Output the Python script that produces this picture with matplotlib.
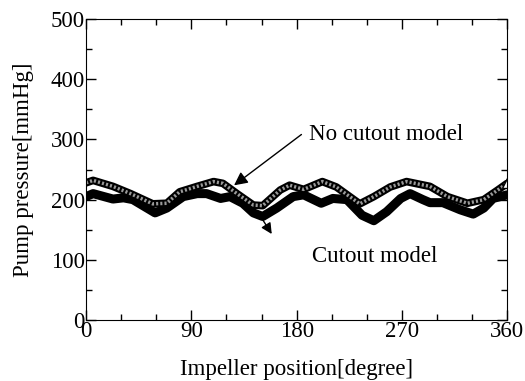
import numpy as np
import matplotlib as mplt
mplt.use("Agg")
import matplotlib.pyplot as plt
from matplotlib import rc

rc('font', **{'family': 'serif', 'serif': ['Liberation Serif', 'DejaVu Serif'], 'size': 16.5})

# Cutout model (solid black)
x_cut = [0, 6, 23, 32, 40, 59, 69, 83, 95, 103, 115, 123, 134, 143, 151, 163, 177,
         186, 201, 211, 223, 236, 246, 257, 269, 277, 288, 294, 305, 320, 331, 340, 348, 360]
y_cut = [205, 210, 201, 203, 200, 178, 186, 205, 210, 210, 202, 205, 194, 178, 172, 186, 205,
         208, 194, 202, 200, 174, 165, 180, 202, 210, 200, 195, 195, 183, 176, 186, 202, 208]

# No cutout model (open triangles)
x_nocut = [0, 6, 23, 38, 57, 69, 80, 95, 109, 117, 129, 143, 151, 166, 174, 186, 202, 214,
           234, 246, 260, 274, 294, 309, 326, 340, 352, 360]
y_nocut = [228, 232, 222, 210, 193, 194, 213, 222, 230, 227, 210, 191, 190, 216, 224, 217, 230, 221,
           193, 205, 221, 230, 222, 205, 194, 200, 216, 227]

fig = plt.figure(figsize=(5.25, 3.81), dpi=100)
ax = fig.add_axes([0.164, 0.160, 0.802, 0.790])

ax.plot(x_cut, y_cut, color="k", linewidth=6.5, solid_joinstyle="round", solid_capstyle="round")
ax.plot(x_nocut, y_nocut, color="k", linewidth=5.5, solid_joinstyle="round", solid_capstyle="round")
ax.plot(x_nocut, y_nocut, color="#9a9a9a", linewidth=2.5, linestyle=(0, (0.6, 0.6)))
ax.plot([x_nocut[-1]], [y_nocut[-1]], marker="^", ms=7, mfc="white", mec="k", mew=1)

ax.annotate("", xy=(124.6, 221), xytext=(186, 311),
            arrowprops=dict(arrowstyle="-|>", color="k", lw=1, mutation_scale=20))
ax.annotate("", xy=(160, 139), xytext=(145, 185),
            arrowprops=dict(arrowstyle="-|>", color="k", lw=1, mutation_scale=16))
ax.text(256.6, 309, "No cutout model", ha="center", va="center")
ax.text(246.8, 105, "Cutout model", ha="center", va="center")

ax.set_xlim(0, 360)
ax.set_ylim(0, 500)
ax.set_xticks([0, 90, 180, 270, 360])
ax.set_xticks(np.arange(0, 361, 30), minor=True)
ax.set_yticks([0, 100, 200, 300, 400, 500])
ax.set_yticks(np.arange(0, 501, 50), minor=True)
ax.tick_params(which="both", direction="in", top=True, right=True, pad=1)
ax.tick_params(which="major", length=7, width=1)
ax.tick_params(which="minor", length=4, width=1)

ax.set_xlabel("Impeller position[degree]", labelpad=12)
ax.set_ylabel("Pump pressure[mmHg]", labelpad=12)

fig.savefig("out.png", dpi=100)
